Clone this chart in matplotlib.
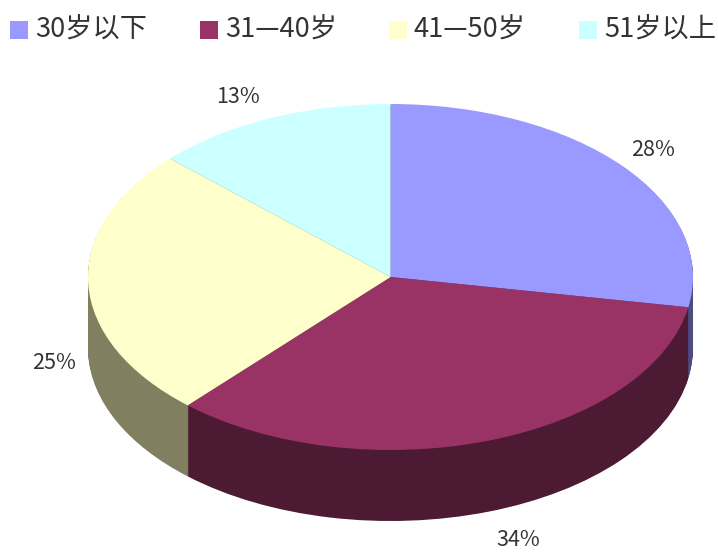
import matplotlib
matplotlib.use('Agg')
import matplotlib.pyplot as plt
from matplotlib.patches import Rectangle

plt.rcParams['font.family'] = ['Noto Sans CJK SC', 'DejaVu Sans']

# age groups and their shares (slice sizes)
groups = ['30岁以下', '31—40岁', '41—50岁', '51岁以上']
shares = [27.8, 33.9, 25.3, 13.0]
pct_labels = ['28%', '34%', '25%', '13%']

top_colors = ['#9999FF', '#993366', '#FFFFCC', '#CCFFFF']
side_colors = ['#4C4C80', '#4C1A33', '#808060', '#668080']

W, H = 718, 552
# ellipse of the top face, in pixels
cx, cy, rx, ry, depth = 390.5, 277, 302.5, 173, 71

fig = plt.figure(figsize=(W / 100, H / 100), dpi=100, facecolor='white')
ax = fig.add_axes([0, 0, 1, 1])

# stack of darker pies makes the side wall, then the top face on it
for d in range(depth, 0, -1):
    ax.pie(shares, colors=side_colors, startangle=90, counterclock=False,
           center=(0, -d / ry), wedgeprops={'linewidth': 0})
ax.pie(shares, colors=top_colors, startangle=90, counterclock=False,
       wedgeprops={'linewidth': 0})

# stretch the unit circle to the ellipse
ax.set_aspect('auto')
ax.set_xlim(-cx / rx, (W - cx) / rx)
ax.set_ylim((cy - H) / ry, cy / ry)
ax.axis('off')


def px_text(x, y, s, **kw):
    fig.text(x / W, 1 - y / H, s, color='#333333', **kw)


# percent labels
label_pos = [(653, 150), (518, 540), (54, 363), (238, 97)]
for (x, y), s in zip(label_pos, pct_labels):
    px_text(x, y, s, fontsize=15.5, ha='center', va='center')

# legend along the top
legend_x = [10, 200, 388.5, 579]
for x, name, c in zip(legend_x, groups, top_colors):
    fig.add_artist(Rectangle((x / W, 1 - 39 / H), 18 / W, 18 / H, facecolor=c,
                             edgecolor='none', transform=fig.transFigure))
    px_text(x + 25, 30, name, fontsize=19.6, ha='left', va='center')

fig.savefig('out.png', dpi=100)
